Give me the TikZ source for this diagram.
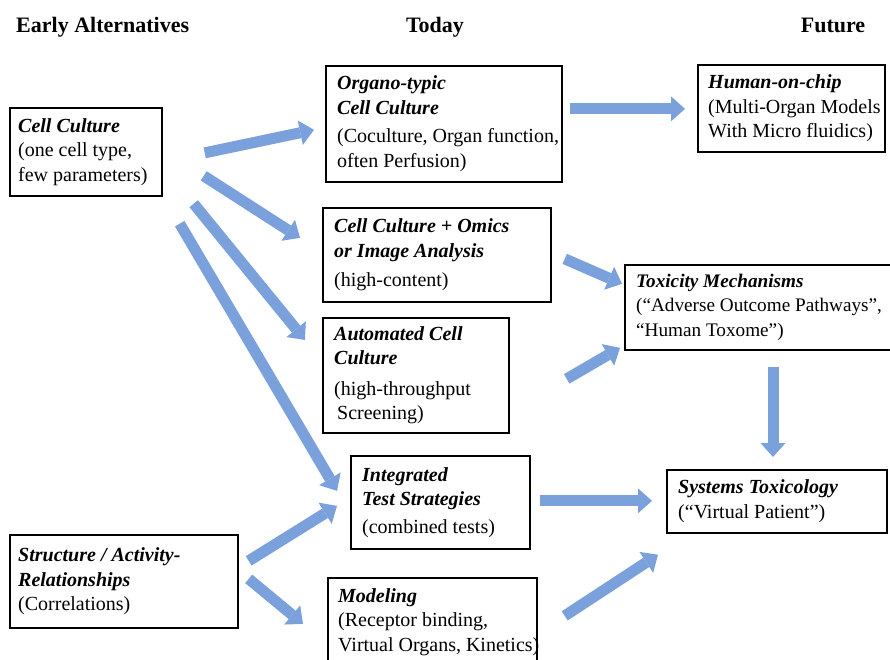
\documentclass[tikz,border=0pt]{standalone}
\usepackage{fontspec}
\setmainfont{Liberation Serif}
\usetikzlibrary{arrows.meta}
\definecolor{arrowblue}{RGB}{122,161,220}
\newcommand{\boxtitle}[1]{{\bfseries\itshape #1}}
\tikzset{
  boxframe/.style={draw=black, line width=1.7pt, anchor=north west, inner sep=0pt},
  txt/.style={anchor=west, align=left, inner sep=0pt, font=\fontsize{20}{24.5}\selectfont},
  hdr/.style={inner sep=0pt, font=\fontsize{22}{26}\selectfont\bfseries},
  barrow/.style={draw=arrowblue, line width=11pt, -{Triangle[length=14pt,width=25pt,line width=0pt]}}
}
\begin{document}
\begin{tikzpicture}[x=1pt,y=-1pt]
\clip (0,0) rectangle (890,659);
\fill[white] (0,0) rectangle (890,659);

% headers
\node[hdr, anchor=base west] (h1) at (16,32) {Early Alternatives};
\node[hdr, anchor=base] (h2) at (435,32) {Today};
\node[hdr, anchor=base] (h3) at (833,32) {Future};

% boxes
\node[boxframe, minimum width=152pt, minimum height=88pt] (cc) at (9,107) {};
\node[txt] (cct) at ([xshift=9pt]cc.west) {\boxtitle{Cell Culture}\\(one cell type,\\few parameters)};

\node[boxframe, minimum width=236pt, minimum height=116pt] (org) at (325,65) {};
\node[txt] (orgt) at ([xshift=12pt]org.west) {\boxtitle{Organo-typic}\\\boxtitle{Cell Culture}\\[4pt](Coculture, Organ function,\\often Perfusion)};

\node[boxframe, minimum width=187pt, minimum height=87pt] (hoc) at (697,64) {};
\node[txt] (hoct) at ([xshift=11pt]hoc.west) {\boxtitle{Human-on-chip}\\(Multi-Organ Models\\With Micro fluidics)};

\node[boxframe, minimum width=228pt, minimum height=94pt] (omi) at (322,207) {};
\node[txt] (omit) at ([xshift=12pt]omi.west) {\boxtitle{Cell Culture + Omics}\\\boxtitle{or Image Analysis}\\[5pt](high-content)};

\node[boxframe, minimum width=186pt, minimum height=115pt] (aut) at (322,317) {};
\node[txt] (autt) at ([xshift=12pt]aut.west) {\boxtitle{Automated Cell}\\\boxtitle{Culture}\\[6pt](high-throughput\\\hspace*{3pt}Screening)};

\node[boxframe, minimum width=281pt, minimum height=85pt] (tox) at (624,264) {};
\node[txt, font=\fontsize{19.2}{24.5}\selectfont] (toxt) at ([xshift=12pt]tox.west) {\boxtitle{Toxicity Mechanisms}\\(“Adverse Outcome Pathways”,\\“Human Toxome”)};

\node[boxframe, minimum width=179pt, minimum height=93pt] (its) at (350,455) {};
\node[txt] (itst) at ([xshift=12pt]its.west) {\boxtitle{Integrated}\\\boxtitle{Test Strategies}\\[3pt](combined tests)};

\node[boxframe, minimum width=220pt, minimum height=63pt] (sys) at (666,469) {};
\node[txt] (syst) at ([xshift=12pt]sys.west) {\boxtitle{Systems Toxicology}\\(“Virtual Patient”)};

\node[boxframe, minimum width=228pt, minimum height=93pt] (sar) at (9,534) {};
\node[txt] (sart) at ([xshift=9pt]sar.west) {\boxtitle{Structure / Activity-}\\\boxtitle{Relationships}\\(Correlations)};

\node[boxframe, minimum width=209pt, minimum height=100pt] (mod) at (327,577) {};
\node[txt, anchor=north west] (modt) at ([shift={(11,11)}]mod.north west) {\boxtitle{Modeling}\\(Receptor binding,\\Virtual Organs, Kinetics)};

% arrows
\draw[barrow] ([shift={(42,1)}]cc.east) -- ([shift={(-11,6)}]org.west);
\draw[barrow] ([shift={(41,24)}]cc.east) -- ([shift={(-22,-17)}]omi.west);
\draw[barrow] ([shift={(31,7)}]cc.south east) -- ([shift={(-17,23)}]aut.north west);
\draw[barrow] ([shift={(17,27)}]cc.south east) -- ([shift={(-13,-11.5)}]its.west);
\draw[barrow] ([shift={(7,-15)}]org.east) -- ([shift={(-12,0.5)}]hoc.west);
\draw[barrow] ([shift={(13,4)}]omi.east) -- ([shift={(-2,-23.5)}]tox.west);
\draw[barrow] ([shift={(57,3.5)}]aut.east) -- ([shift={(-4,40.5)}]tox.west);
\draw[barrow] ([shift={(149,16)}]tox.south west) -- ([shift={(107,-12)}]sys.north west);
\draw[barrow] ([shift={(9,-1.5)}]its.east) -- ([shift={(-14,-0.5)}]sys.west);
\draw[barrow] ([shift={(10,-20.5)}]sar.east) -- ([shift={(-13,3.5)}]its.west);
\draw[barrow] ([shift={(10,-2.5)}]sar.east) -- ([shift={(-24,-4)}]mod.west);
\draw[barrow] ([shift={(27,-12)}]mod.east) -- ([shift={(-8,21)}]sys.south west);
\end{tikzpicture}
\end{document}
